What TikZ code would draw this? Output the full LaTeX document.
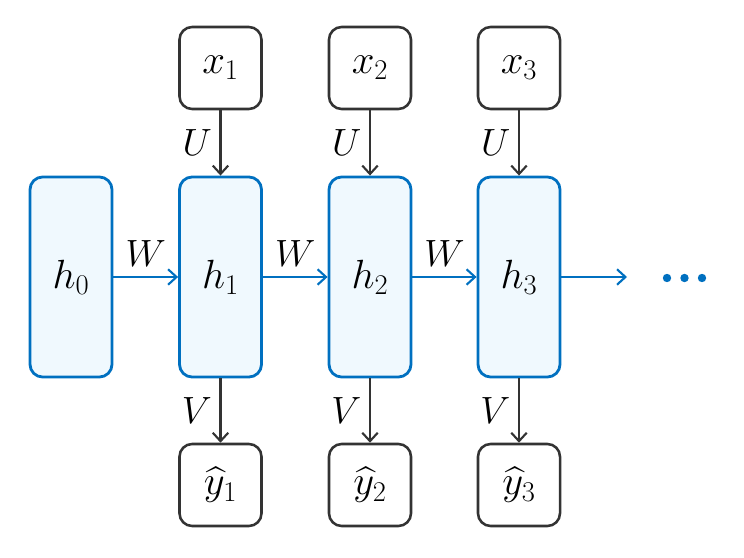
\documentclass[tikz,border=0pt]{standalone}
\usepackage{fix-cm}
\usepackage{amsmath}
\usepackage{tikz}
\usetikzlibrary{arrows.meta,positioning}
\definecolor{rnnBlue}{HTML}{0070C0}
\definecolor{rnnFill}{HTML}{F0F9FE}
\definecolor{rnnDark}{HTML}{333333}
\tikzset{
    hidden/.style={rectangle,rounded corners=9pt,draw=rnnBlue,fill=rnnFill,line width=2pt,minimum width=2.05cm,minimum height=5cm,font=\fontsize{29}{34}\selectfont},
    io/.style={rectangle,rounded corners=9pt,draw=rnnDark,fill=white,line width=1.8pt,minimum width=2.05cm,minimum height=2.05cm,font=\fontsize{29}{34}\selectfont},
    recur/.style={-{Straight Barb[length=6pt,width=11pt,line width=1.5pt]},line width=1.7pt,rnnBlue},
    feed/.style={-{Straight Barb[length=6pt,width=11pt,line width=1.5pt]},line width=1.7pt,rnnDark},
    wlabel/.style={text=black,font=\fontsize{27}{32}\selectfont}
}

\begin{document}
\begin{tikzpicture}[x=0.025cm,y=-0.025cm]
    \useasboundingbox (0,0) rectangle (744,558);
    % hidden states
    \node[hidden] at (71,277) (h0) {$h_0$};
    \node[hidden] at (220.5,277) (h1) {$h_1$};
    \node[hidden] at (370,277) (h2) {$h_2$};
    \node[hidden] at (519,277) (h3) {$h_3$};
    % inputs and outputs
    \node[io] at (220.5,68) (x1) {$x_1$};
    \node[io] at (370,68) (x2) {$x_2$};
    \node[io] at (519,68) (x3) {$x_3$};
    \node[io] at (220.5,485) (y1) {$\widehat{y}_1$};
    \node[io] at (370,485) (y2) {$\widehat{y}_2$};
    \node[io] at (519,485) (y3) {$\widehat{y}_3$};
    \coordinate (tail) at (627,277);
    % recurrent arrows
    \draw[recur] (h0) -- node[above=3pt,wlabel]{$W$} (h1);
    \draw[recur] (h1) -- node[above=3pt,wlabel]{$W$} (h2);
    \draw[recur] (h2) -- node[above=3pt,wlabel]{$W$} (h3);
    \draw[recur] (h3) -- (tail);
    % input / output arrows
    \draw[feed] (x1) -- node[left=2pt,wlabel]{$U$} (h1);
    \draw[feed] (x2) -- node[left=2pt,wlabel]{$U$} (h2);
    \draw[feed] (x3) -- node[left=2pt,wlabel]{$U$} (h3);
    \draw[feed] (h1) -- node[left=2pt,wlabel]{$V$} (y1);
    \draw[feed] (h2) -- node[left=2pt,wlabel]{$V$} (y2);
    \draw[feed] (h3) -- node[left=2pt,wlabel]{$V$} (y3);
    % dots
    \fill[rnnBlue] (667,278) circle (4.2) (684.5,278) circle (4.2) (702,278) circle (4.2);
\end{tikzpicture}
\end{document}
